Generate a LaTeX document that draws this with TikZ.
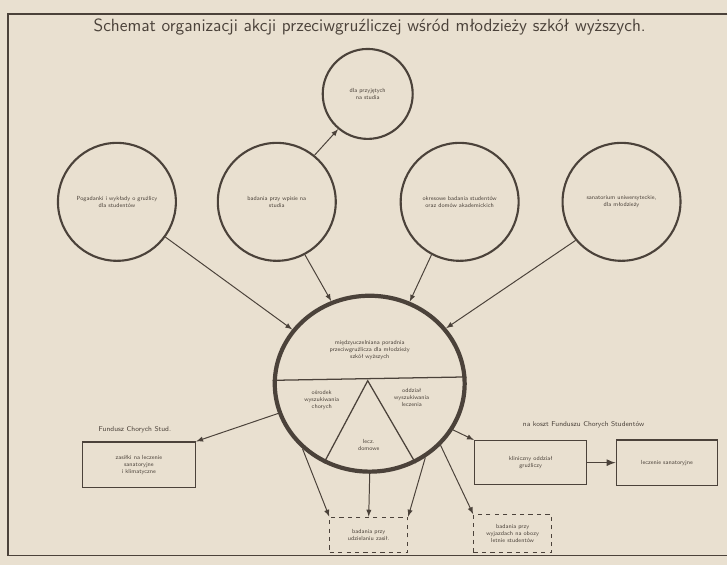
\documentclass[tikz,border=0pt]{standalone}
\usepackage{fontspec}
\usepackage{tikz}
\usetikzlibrary{shapes.geometric}

\definecolor{paper}{HTML}{E9E0D0}
\definecolor{ink}{HTML}{4B423A}

\begin{document}
\begin{tikzpicture}[x=0.025cm, y=-0.025cm, >=latex, font=\sffamily]
  \tikzstyle{ring} = [circle, draw=ink, line width=1.5pt, minimum size=2.95cm,
  inner sep=0pt, text width=2.5cm, text centered, text=ink,
  font=\sffamily\fontsize{4.2}{5}\selectfont]
  \tikzstyle{hub} = [ellipse, draw=ink, line width=3pt, minimum width=4.75cm,
  minimum height=4.4cm, inner sep=0pt]
  \tikzstyle{small} = [text=ink, align=center, font=\sffamily\fontsize{4.2}{5}\selectfont]
  \tikzstyle{box} = [rectangle, draw=ink, line width=1pt, inner sep=0pt,
  align=center, text=ink, font=\sffamily\fontsize{4.2}{5}\selectfont]
  \tikzstyle{dbox} = [box, dashed, line width=0.7pt]

  % paper and frame
  \fill[paper] (0,0) rectangle (728,565);
  \draw[ink, line width=0.8pt] (728,14) -- (8,14) -- (8,556) -- (728,556);

  \node[text=ink, font=\sffamily\fontsize{12.6}{14}\selectfont] (title) at (370,27)
    {Schemat organizacji akcji przeciwgruźliczej wśród młodzieży szkół wyższych.};

  % Define nodes
  \node[ring] (wyklady) at (117,202) {Pogadanki i wykłady o gruźlicy\\dla studentów};
  \node[ring] (wpis) at (277,202) {badania przy wpisie na\\studia};
  \node[ring] (okresowe) at (460,202) {okresowe badania studentów\\oraz domów akademickich};
  \node[ring] (sanat) at (622,202) {sanatorium uniwersyteckie,\\dla młodzieży};
  \node[ring, minimum size=2.25cm, text width=1.9cm] (przyjeci) at (368,94)
    {dla przyjętych\\na studia};

  \node[hub] (poradnia) at (370,384) {};
  \node[small] (nazwa) at (370,350)
    {międzyuczelniana poradnia\\przeciwgruźlicza dla młodzieży\\szkół wyższych};
  \coordinate (apex) at (368,381);
  \draw[ink, line width=0.9pt] (poradnia.178) -- (poradnia.4);
  \draw[ink, line width=0.9pt] (poradnia.240) -- (apex) -- (poradnia.300);
  \node[small] (osrodek) at (322,400) {ośrodek\\wyszukiwania\\chorych};
  \node[small] (oddzial) at (412,398) {oddział\\wyszukiwania\\leczenia};
  \node[small] (domowe) at (369,445) {lecz.\\domowe};

  \node[small, font=\sffamily\fontsize{5}{6}\selectfont] (fcs) at (135,430)
    {Fundusz Chorych Stud.};
  \node[box, minimum width=2.83cm, minimum height=1.13cm] (zasilki) at (139,465)
    {zasiłki na leczenie\\sanatoryjne\\i klimatyczne};
  \node[small, font=\sffamily\fontsize{5}{6}\selectfont] (koszt) at (584,425)
    {na koszt Funduszu Chorych Studentów};
  \node[box, minimum width=2.8cm, minimum height=1.1cm] (klinika) at (531,463)
    {kliniczny oddział\\gruźliczy};
  \node[box, minimum width=2.53cm, minimum height=1.13cm, right of=klinika,
    node distance=3.41cm] (leczenie) {leczenie sanatoryjne};
  \node[dbox, minimum width=1.95cm, minimum height=0.875cm] (zasil) at (369,535)
    {badania przy\\udzielaniu zasił.};
  \node[dbox, minimum width=1.95cm, minimum height=0.95cm] (obozy) at (513,534)
    {badania przy\\wyjazdach na obozy\\letnie studentów};

  \path [ink, line width=0.7pt]
    [->] (wyklady.-36) edge (poradnia.145)
    [->] (wpis.-62) edge (poradnia.115)
    [->] (okresowe.-118) edge (poradnia.64)
    [->] (sanat.-140) edge (poradnia.36)
    [->] (wpis.51) edge (przyjeci.230)
    [->] (poradnia.198) edge (zasilki.north east)
    [->] (poradnia.331) edge (klinika.north west)
    [->] (poradnia.224) edge (zasil.north west)
    [->] (poradnia.south) edge (zasil.north)
    [->] (poradnia.307) edge (zasil.north east)
    [->] (poradnia.319) edge (obozy.north west);
  \draw[->, ink, line width=1.2pt] (klinika) -- (leczenie);
\end{tikzpicture}
\end{document}
